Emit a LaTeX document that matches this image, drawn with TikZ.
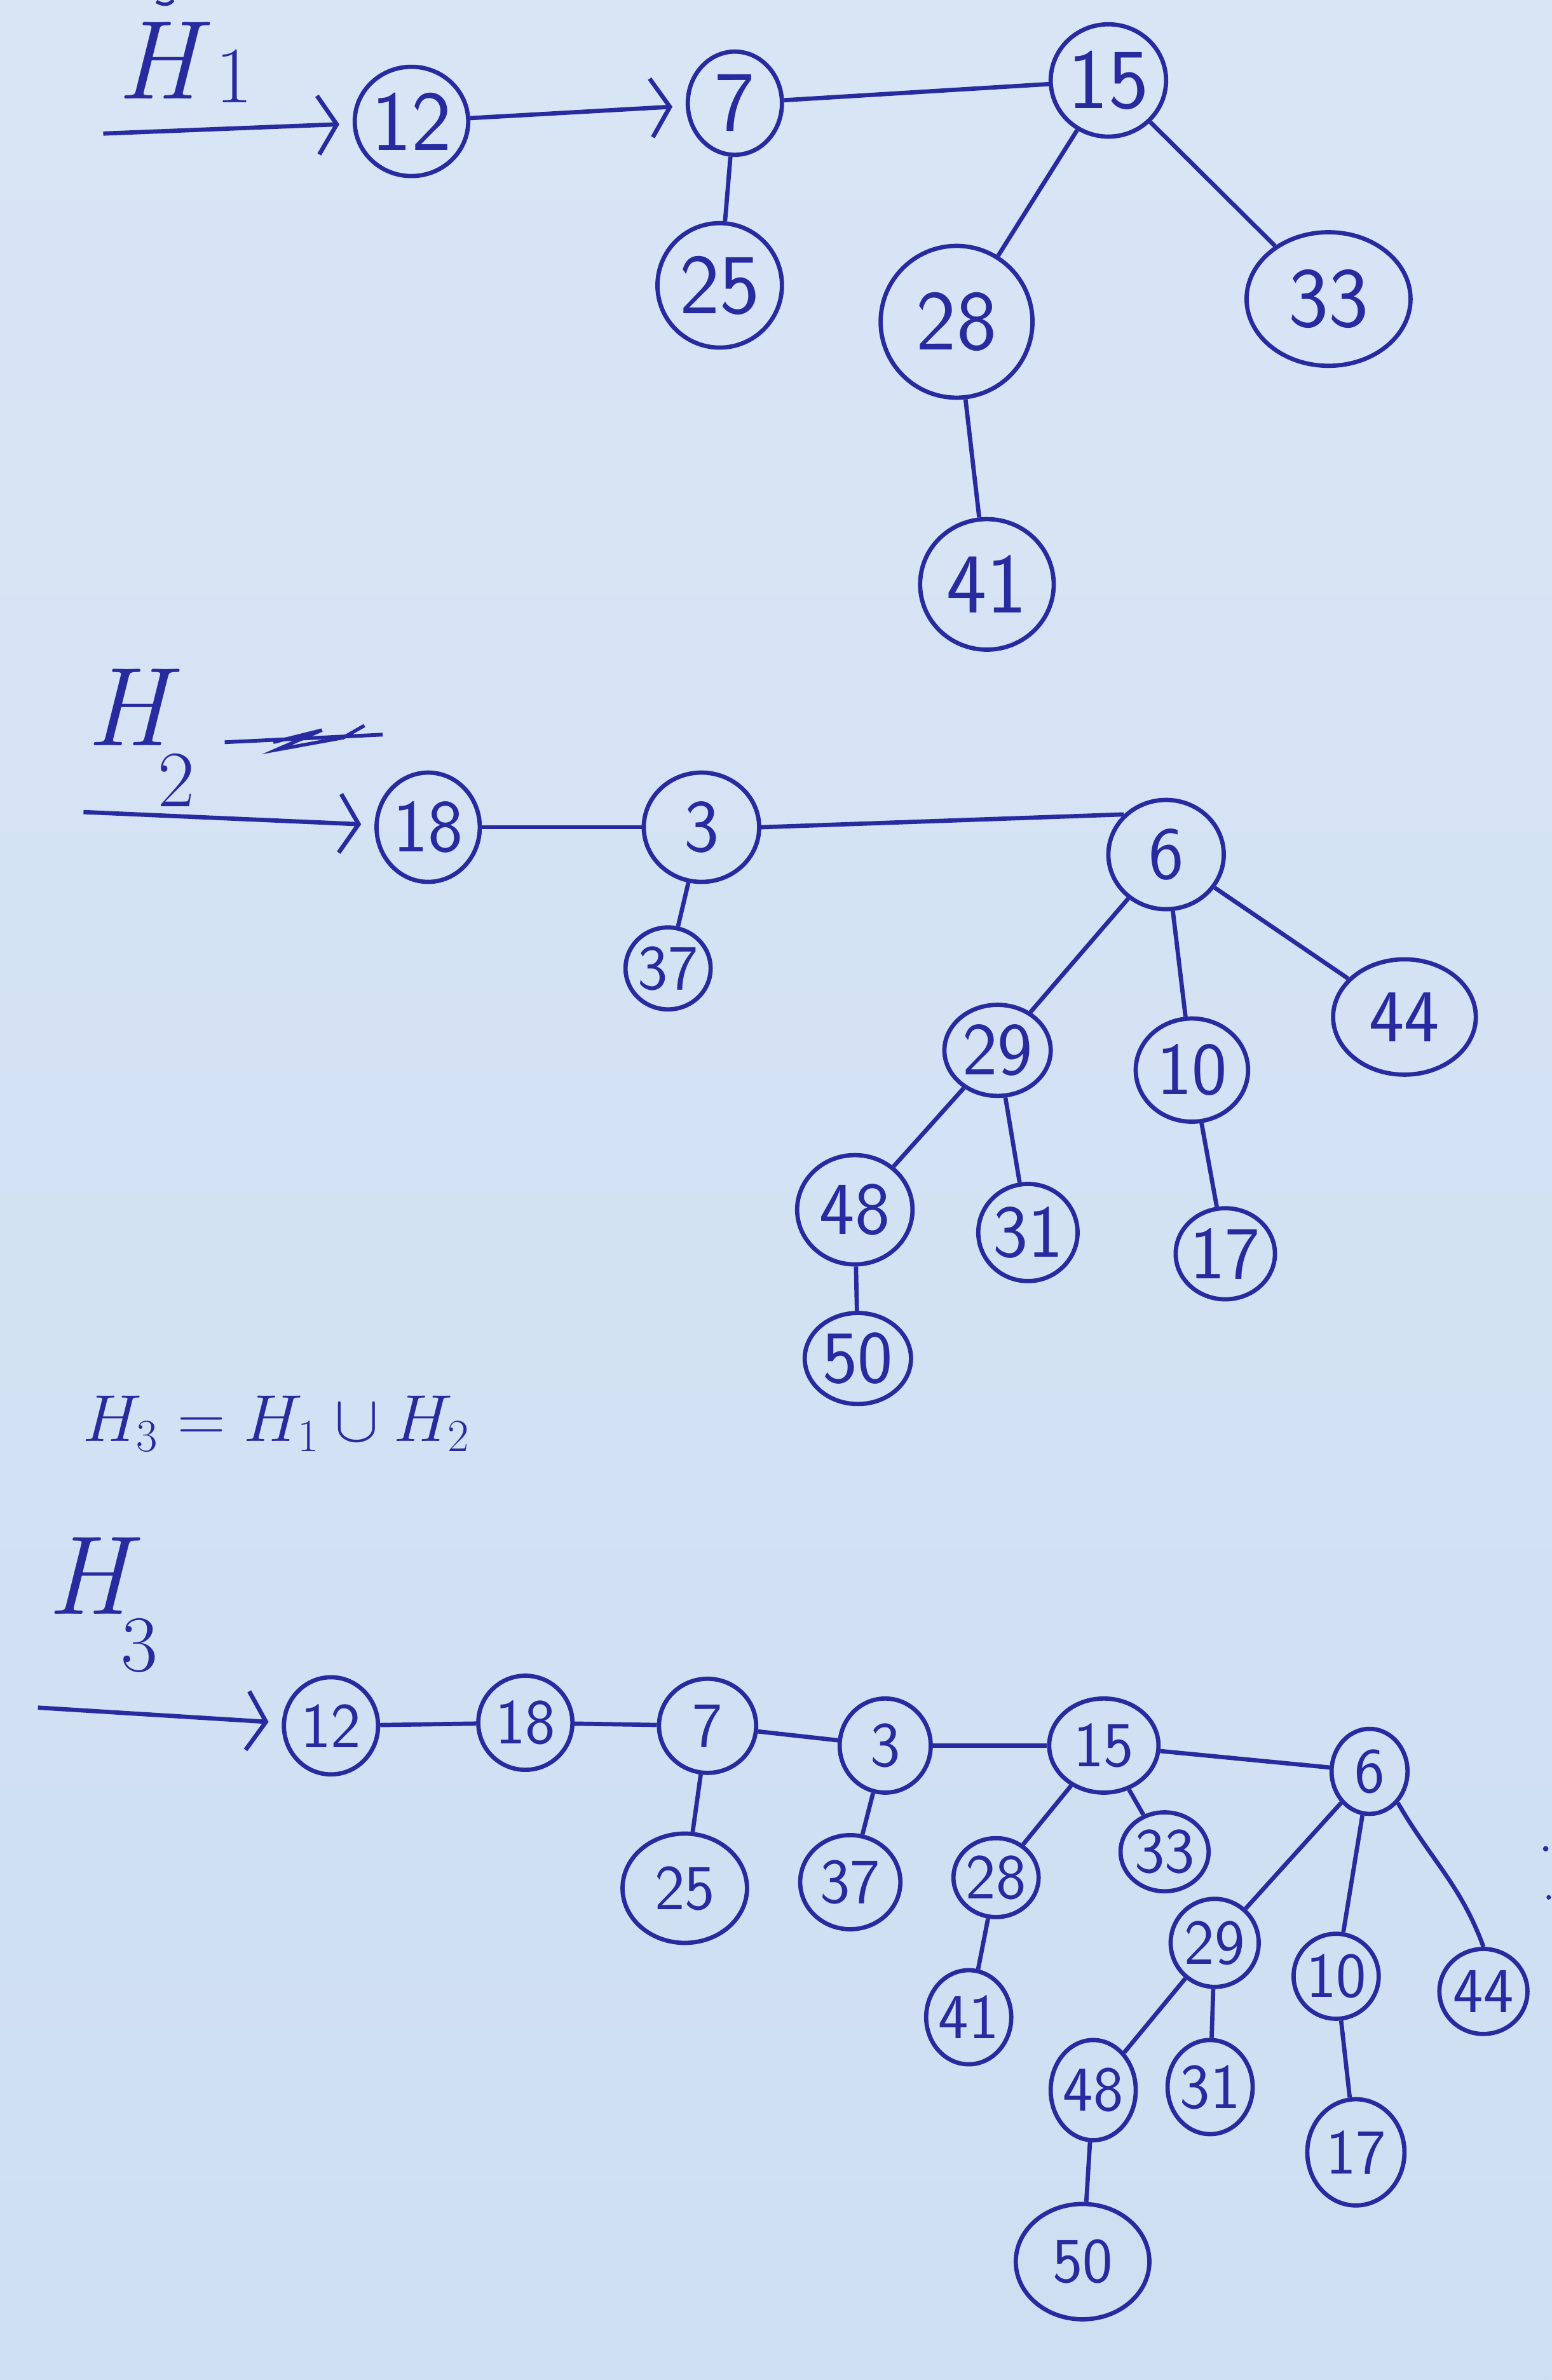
\documentclass[tikz,border=0pt]{standalone}
\usetikzlibrary{shapes.geometric,arrows.meta}
\definecolor{paper}{RGB}{206,223,242}
\definecolor{papertop}{RGB}{216,229,245}
\definecolor{ink}{RGB}{40,42,160}
\tikzset{
  nd/.style 2 args={ellipse, draw=ink, line width=1.6pt, inner sep=0pt,
    minimum width=#1*0.02cm, minimum height=#2*0.02cm, text=ink},
  fa/.style={font=\sffamily\fontsize{32}{36}\selectfont},
  fb/.style={font=\sffamily\fontsize{28}{32}\selectfont},
  fc/.style={font=\sffamily\fontsize{24}{28}\selectfont},
  edge/.style={draw=ink, line width=1.6pt},
  arr/.style={draw=ink, line width=1.6pt, -{Straight Barb[length=7pt,width=22pt,line width=1.6pt]}, shorten >=5pt},
  lbl/.style={text=ink, font=\fontsize{42}{46}\selectfont\itshape},
  sub/.style={text=ink, font=\fontsize{30}{34}\selectfont},
}
\begin{document}
\begin{tikzpicture}[x=0.02cm, y=-0.02cm]
% paper
\shade[top color=papertop, bottom color=paper] (0,0) rectangle (1022,1568);
\useasboundingbox (0,0) rectangle (1022,1568);

% ---------------- H1 ----------------
\draw[ink, line width=1.3pt] (103,1) .. controls (108,4) and (112,3) .. (114,0);
\node[lbl] (h1) at (104,40) {H};
\node[sub] (h1s) at (154,50) {1};
\coordinate (s1) at (68,88);
\node[nd={68}{72}, fa] (a12) at (271,80) {12};
\node[nd={62}{68}, fa] (a7) at (484,68) {7};
\node[nd={76}{74}, fa] (a15) at (730,53) {15};
\node[nd={82}{82}, fa] (a25) at (474,188) {25};
\node[nd={100}{100}, fa] (a28) at (630,212) {28};
\node[nd={108}{88}, fa] (a33) at (875,197) {33};
\node[nd={88}{86}, fa] (a41) at (650,385) {41};
\draw[arr] (s1) -- (a12);
\draw[arr] (a12) -- (a7);
\draw[edge] (a7) -- (a15);
\draw[edge] (a7) -- (a25);
\draw[edge] (a15) -- (a28);
\draw[edge] (a15) -- (a33);
\draw[edge] (a28) -- (a41);

% ---------------- H2 ----------------
\node[lbl] (h2) at (84,466) {H};
\node[sub] (h2s) at (116,514) {2};
\draw[ink, line width=1.4pt] (148,489) -- (252,484);
\draw[ink, line width=1.3pt] (180,489) -- (212,481) -- (182,494) -- (226,486) -- (240,478);
\coordinate (s2) at (55,535);
\node[nd={68}{72}, fb] (b18) at (282,545) {18};
\node[nd={76}{72}, fb] (b3) at (462,545) {3};
\node[nd={76}{72}, fb] (b6) at (768,563) {6};
\node[nd={54}{54}, fc] (b37) at (440,638) {37};
\node[nd={94}{76}, fb] (b44) at (925,670) {44};
\node[nd={70}{60}, fb] (b29) at (657,692) {29};
\node[nd={74}{68}, fb] (b10) at (785,705) {10};
\node[nd={76}{72}, fb] (b48) at (563,797) {48};
\node[nd={60}{64}, fb] (b31) at (677,812) {31};
\node[nd={56}{60}, fb] (b17) at (807,826) {17};
\node[nd={70}{60}, fb] (b50) at (565,895) {50};
\draw[arr] (s2) -- (b18);
\draw[edge] (b18) -- (b3);
\draw[edge] (b3.east) -- (b6.north west);
\draw[edge] (b3) -- (b37);
\draw[edge] (b6) -- (b29);
\draw[edge] (b6) -- (b10);
\draw[edge] (b6) -- (b44);
\draw[edge] (b29) -- (b48);
\draw[edge] (b29) -- (b31);
\draw[edge] (b10) -- (b17);
\draw[edge] (b48) -- (b50);

% union formula
\node[text=ink, font=\fontsize{26}{30}\selectfont] (eq) at (182,938) {$H_3 = H_1 \cup H_2$};

% ---------------- H3 ----------------
\node[lbl] (h3) at (58,1038) {H};
\node[sub] (h3s) at (92,1084) {3};
\coordinate (s3) at (25,1125);
\node[nd={62}{64}, fc] (c12) at (218,1137) {12};
\node[nd={62}{62}, fc] (c18) at (346,1135) {18};
\node[nd={64}{62}, fc] (c7) at (466,1137) {7};
\node[nd={60}{62}, fc] (c3) at (583,1150) {3};
\node[nd={72}{62}, fc] (c15) at (727,1150) {15};
\node[nd={50}{56}, fc] (c6) at (902,1167) {6};
\node[nd={82}{72}, fc] (c25) at (451,1244) {25};
\node[nd={66}{62}, fc] (c37) at (560,1240) {37};
\node[nd={56}{52}, fc] (c28) at (656,1237) {28};
\node[nd={58}{52}, fc] (c33) at (767,1220) {33};
\node[nd={50}{62}, fc] (c41) at (638,1329) {41};
\node[nd={58}{58}, fc] (c29) at (800,1280) {29};
\node[nd={46}{56}, fc] (c10) at (880,1302) {10};
\node[nd={58}{56}, fc] (c44) at (977,1312) {44};
\node[nd={50}{66}, fc] (c48) at (720,1377) {48};
\node[nd={56}{62}, fc] (c31) at (797,1375) {31};
\node[nd={64}{70}, fc] (c17) at (893,1418) {17};
\node[nd={88}{76}, fc] (c50) at (713,1490) {50};
\draw[arr] (s3) -- (c12);
\draw[edge] (c12) -- (c18);
\draw[edge] (c18) -- (c7);
\draw[edge] (c7) -- (c3);
\draw[edge] (c3) -- (c15);
\draw[edge] (c15) -- (c6);
\draw[edge] (c7) -- (c25);
\draw[edge] (c3) -- (c37);
\draw[edge] (c15) -- (c28);
\draw[edge] (c15) -- (c33);
\draw[edge] (c28) -- (c41);
\draw[edge] (c6) -- (c29);
\draw[edge] (c6) -- (c10);
\draw[edge] (c6.south east) to[out=-60, in=110] (c44.north);
\draw[edge] (c29) -- (c48);
\draw[edge] (c29) -- (c31);
\draw[edge] (c10) -- (c17);
\draw[edge] (c48) -- (c50);
% stray pen marks at the right edge
\fill[ink] (1018,1218) circle (1.8);
\fill[ink] (1020,1250) circle (1.5);
\end{tikzpicture}
\end{document}
